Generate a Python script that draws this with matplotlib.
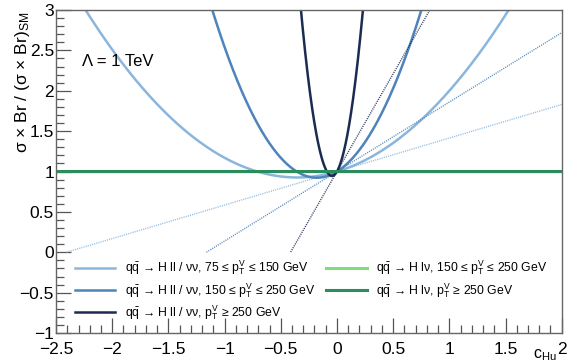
import matplotlib
matplotlib.use("Agg")
import matplotlib.pyplot as plt
import numpy as np
from matplotlib.ticker import MultipleLocator

plt.rcParams["font.family"] = ["Liberation Sans", "DejaVu Sans"]
plt.rcParams["mathtext.fontset"] = "custom"
plt.rcParams["mathtext.rm"] = "Liberation Sans"
plt.rcParams["mathtext.it"] = "Liberation Sans"
plt.rcParams["mathtext.bf"] = "Liberation Sans:bold"

# mu(c) = 1 + lin * c + quad * c^2 for each channel / pT bin
zh_labels = [
    r"$\mathrm{q\bar{q}}$ → H ll / νν, 75 ≤ $\mathrm{p_{T}^{V}}$ ≤ 150 GeV",
    r"$\mathrm{q\bar{q}}$ → H ll / νν, 150 ≤ $\mathrm{p_{T}^{V}}$ ≤ 250 GeV",
    r"$\mathrm{q\bar{q}}$ → H ll / νν, $\mathrm{p_{T}^{V}}$ ≥ 250 GeV",
]
zh_lin = [0.415, 0.86, 2.42]
zh_quad = [0.585, 2.40, 27.0]
zh_colors = ["#8ab6de", "#4f83bb", "#1c2b52"]

wh_labels = [
    r"$\mathrm{q\bar{q}}$ → H lν, 150 ≤ $\mathrm{p_{T}^{V}}$ ≤ 250 GeV",
    r"$\mathrm{q\bar{q}}$ → H lν, $\mathrm{p_{T}^{V}}$ ≥ 250 GeV",
]
wh_lin = [0.0, 0.0]
wh_quad = [0.0, 0.0]
wh_colors = ["#7fdc80", "#2b8c5c"]

c = np.linspace(-2.5, 2.0, 2001)

fig = plt.figure(figsize=(5.72, 3.64), dpi=100)
ax = fig.add_axes([0.098, 0.085, 0.884, 0.8875])

handles = {}
for lin, quad, col, lab in zip(zh_lin, zh_quad, zh_colors, zh_labels):
    # linear-only term, drawn where it stays non-negative
    y_lin = 1 + lin * c
    ax.plot(np.where(y_lin >= 0, c, np.nan), y_lin, ls=(0, (0.8, 0.8)), lw=1.0,
            color=col, alpha=0.9)
    handles[lab], = ax.plot(c, 1 + lin * c + quad * c**2, color=col, lw=1.8)

for lin, quad, col, lab in zip(wh_lin, wh_quad, wh_colors, wh_labels):
    handles[lab], = ax.plot(c, 1 + lin * c + quad * c**2, color=col, lw=2.2)

ax.set_xlim(-2.5, 2.0)
ax.set_ylim(-1, 3)
ax.xaxis.set_major_locator(MultipleLocator(0.5))
ax.xaxis.set_minor_locator(MultipleLocator(0.1))
ax.yaxis.set_major_locator(MultipleLocator(0.5))
ax.yaxis.set_minor_locator(MultipleLocator(0.1))
ax.tick_params(which="both", direction="in", top=False, right=False,
               labelsize=12.5, color="#555555")
ax.tick_params(which="major", length=11, width=0.9)
ax.tick_params(which="minor", length=5.5, width=0.9)
ax.tick_params(axis="x", which="major", pad=6.5)
ax.tick_params(axis="y", which="major", pad=1.5)
for sp in ax.spines.values():
    sp.set_color("#666666")
    sp.set_linewidth(1.0)

fmt = plt.FuncFormatter(lambda v, p: f"{v:g}".replace("-", "\u2212"))
ax.xaxis.set_major_formatter(fmt)
ax.yaxis.set_major_formatter(fmt)

ax.set_ylabel(r"σ × Br / (σ × Br)$_{\mathrm{SM}}$", fontsize=12.5)
ax.yaxis.set_label_coords(-0.048, 0.995)
ax.yaxis.label.set_horizontalalignment("right")
fig.text(0.952, 0.002, r"c$_{\mathrm{Hu}}$", ha="center", va="bottom",
         fontsize=11.5)

ax.text(0.052, 0.842, "Λ = 1 TeV", transform=ax.transAxes, fontsize=12,
        ha="left", va="center")

order = zh_labels + wh_labels
leg = ax.legend([handles[l] for l in order], order, ncol=2, frameon=False,
                loc="lower left", bbox_to_anchor=(0.015, 0.0),
                fontsize=8.8, handlelength=3.3, handletextpad=0.8,
                columnspacing=0.9, labelspacing=0.3)

fig.savefig("out.png", dpi=100)
